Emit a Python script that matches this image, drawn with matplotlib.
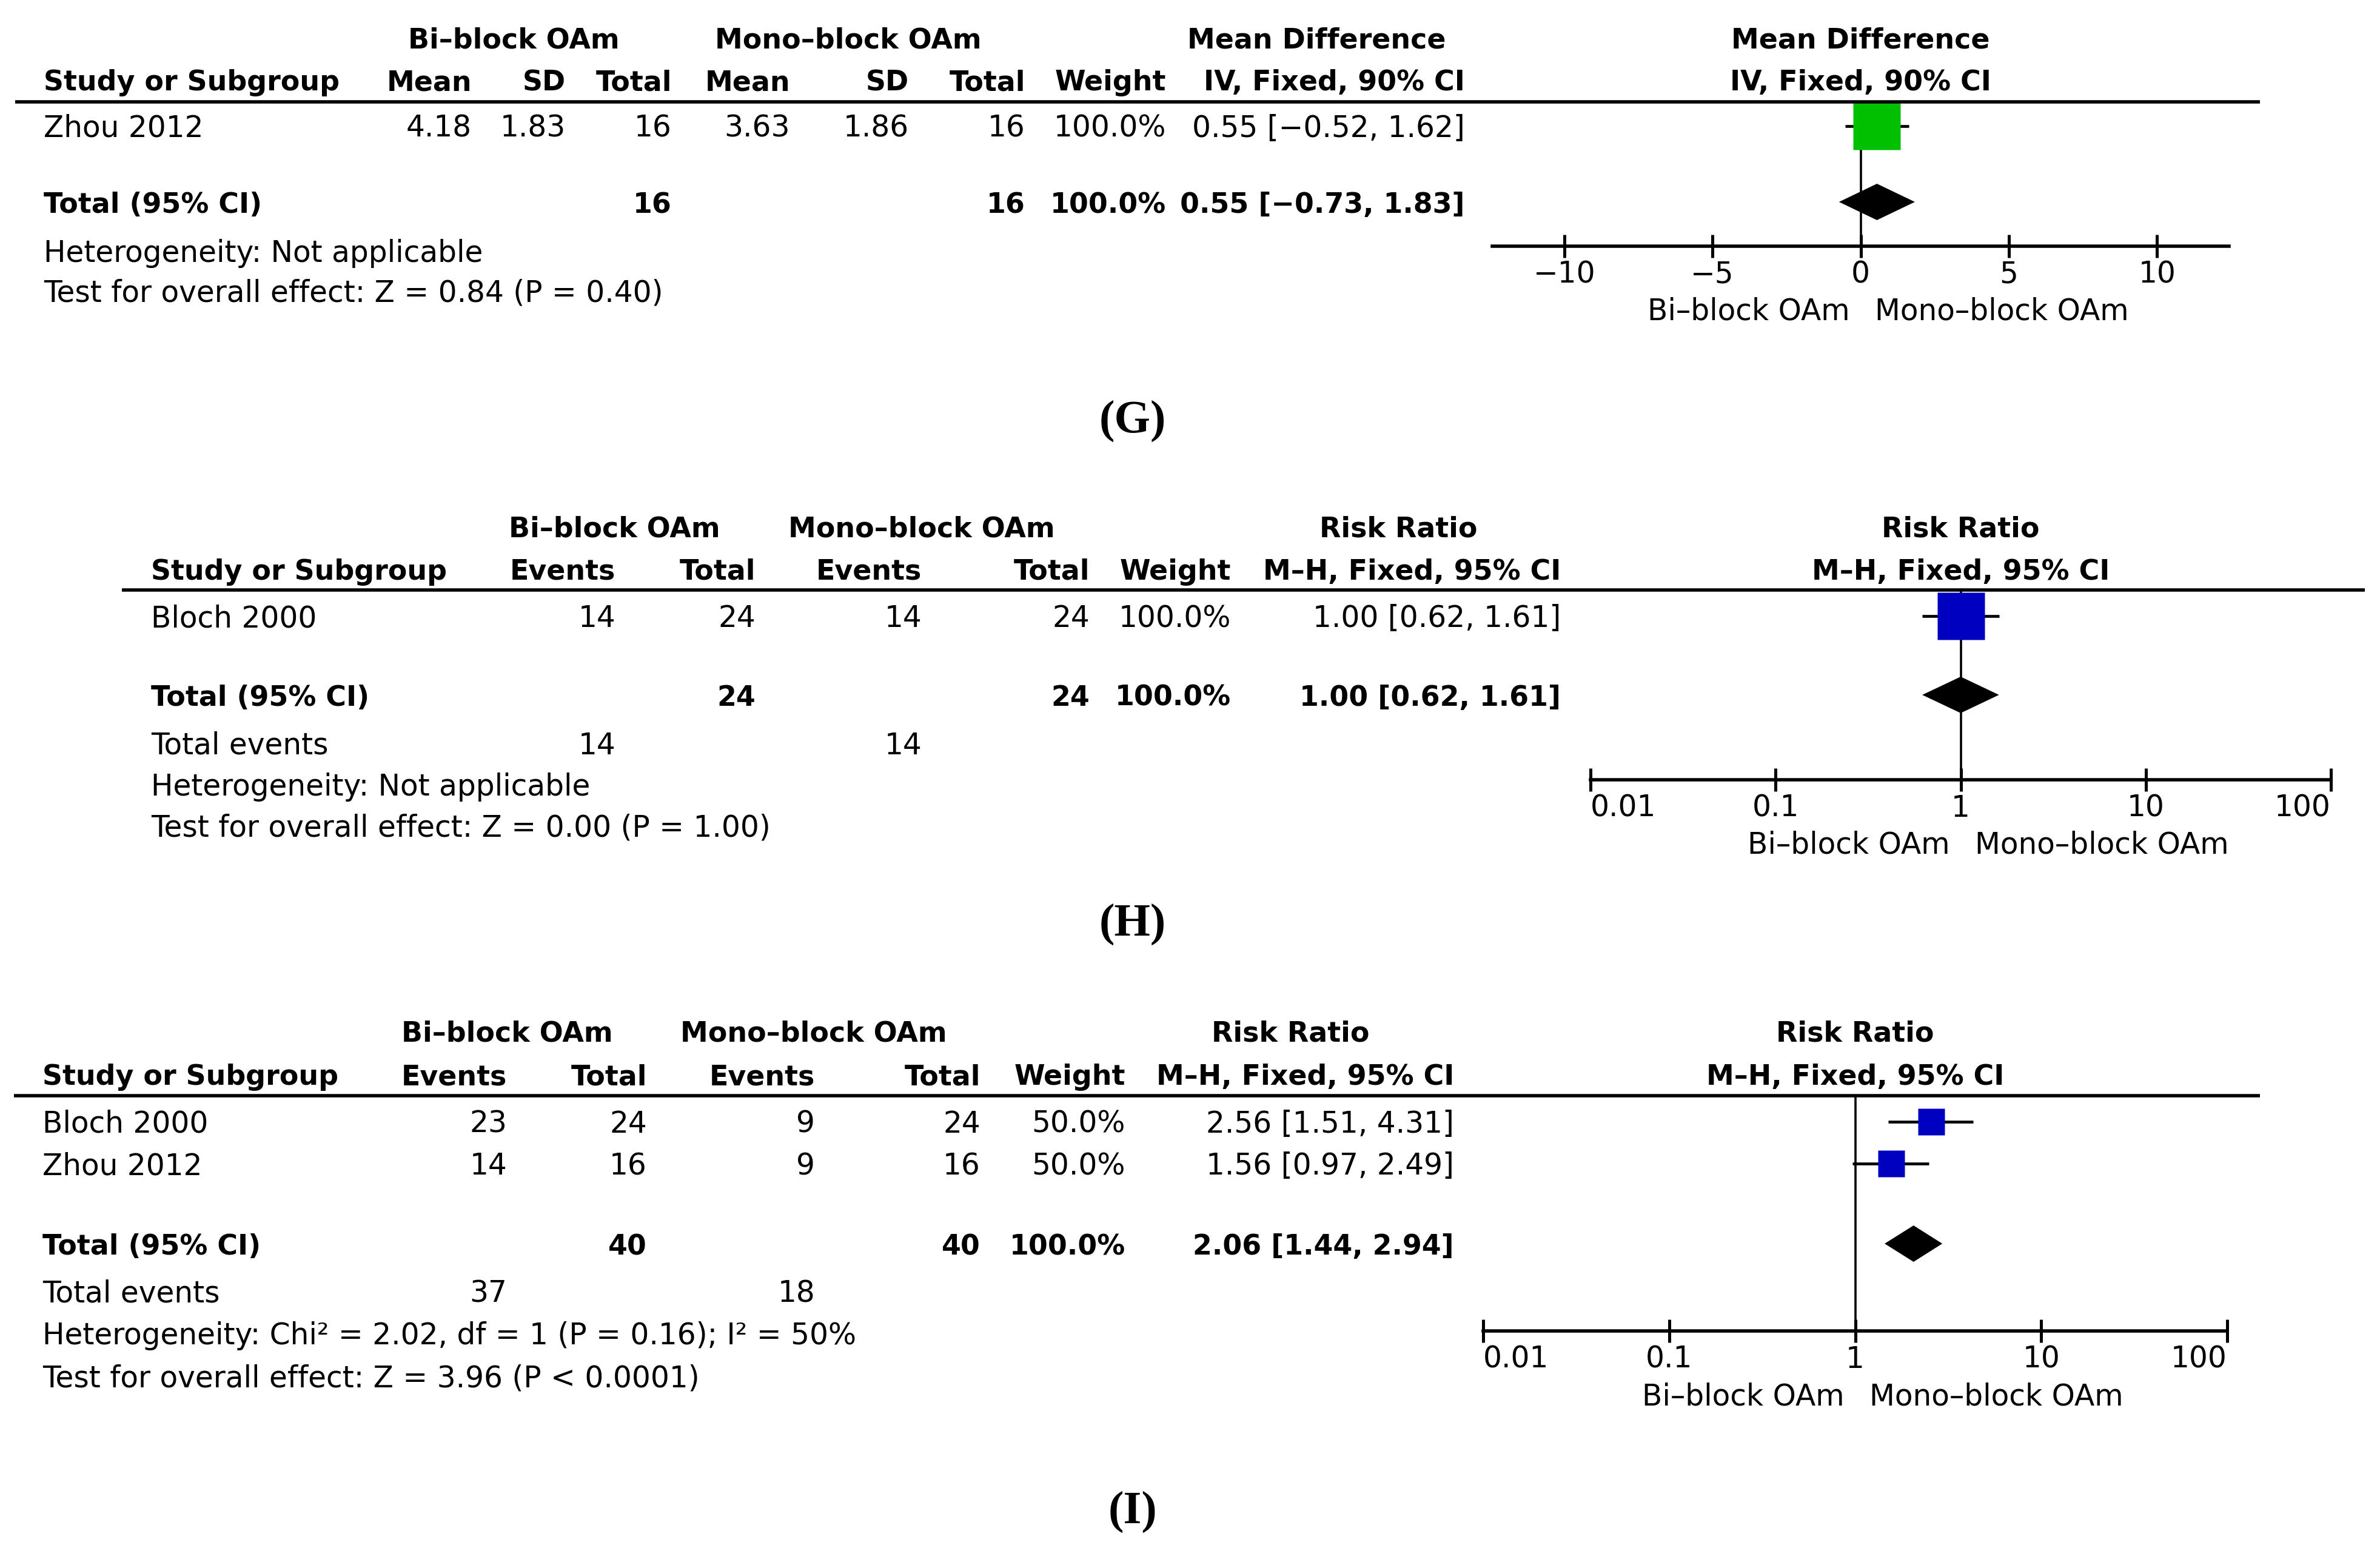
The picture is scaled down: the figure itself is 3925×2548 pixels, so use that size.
import matplotlib
matplotlib.use("Agg")
import matplotlib.pyplot as plt
from matplotlib.lines import Line2D
from matplotlib.patches import Polygon
from matplotlib.ticker import NullLocator

plt.rcParams["font.family"] = ["DejaVu Sans"]

W, H = 3925, 2548
FS = 35      # regular text
FS_B = 33    # bold text (DejaVu bold runs wide)

# ---- (G) mean difference, continuous outcome ----
G_STUDIES   = ["Zhou 2012"]
G_BI_MEAN   = [4.18]
G_BI_SD     = [1.83]
G_BI_N      = [16]
G_MONO_MEAN = [3.63]
G_MONO_SD   = [1.86]
G_MONO_N    = [16]
G_WEIGHT    = [100.0]
G_EST       = [0.55]
G_LO        = [-0.52]
G_HI        = [1.62]
G_TOTAL     = [0.55, -0.73, 1.83]
G_TICKS     = [-10, -5, 0, 5, 10]
G_HET       = "Heterogeneity: Not applicable"
G_TEST      = "Test for overall effect: Z = 0.84 (P = 0.40)"

# ---- (H) risk ratio ----
H_STUDIES = ["Bloch 2000"]
H_BI_EV   = [14]
H_BI_N    = [24]
H_MONO_EV = [14]
H_MONO_N  = [24]
H_WEIGHT  = [100.0]
H_EST     = [1.00]
H_LO      = [0.62]
H_HI      = [1.61]
H_TOTAL   = [1.00, 0.62, 1.61]
H_HET     = "Heterogeneity: Not applicable"
H_TEST    = "Test for overall effect: Z = 0.00 (P = 1.00)"

# ---- (I) risk ratio ----
I_STUDIES = ["Bloch 2000", "Zhou 2012"]
I_BI_EV   = [23, 14]
I_BI_N    = [24, 16]
I_MONO_EV = [9, 9]
I_MONO_N  = [24, 16]
I_WEIGHT  = [50.0, 50.0]
I_EST     = [2.56, 1.56]
I_LO      = [1.51, 0.97]
I_HI      = [4.31, 2.49]
I_TOTAL   = [2.06, 1.44, 2.94]
I_HET     = "Heterogeneity: Chi\u00b2 = 2.02, df = 1 (P = 0.16); I\u00b2 = 50%"
I_TEST    = "Test for overall effect: Z = 3.96 (P < 0.0001)"

RR_TICKS = [0.01, 0.1, 1, 10, 100]


def fx(x):
    return x / W


def fy(y):
    return 1 - y / H


def minus(s):
    return s.replace("-", "\u2212")


def fmt_ci(est, lo, hi):
    return minus(f"{est:.2f} [{lo:.2f}, {hi:.2f}]")


def put(fig, x, y, s, ha="right", bold=False, size=None, **kw):
    if size is None:
        size = FS_B if bold else FS
    fig.text(fx(x), fy(y), s, ha=ha, va="baseline", fontsize=size,
             fontweight="bold" if bold else "normal", **kw)


def hline(fig, x0, x1, y, lw=4.0):
    fig.add_artist(Line2D([fx(x0), fx(x1)], [fy(y), fy(y)],
                          transform=fig.transFigure, color="black", lw=lw,
                          solid_capstyle="butt"))


def draw_table(fig, lay, col_heads, rows, total_cells, events_cells, het, test):
    for text, xc in lay["groups"]:
        put(fig, xc, lay["hdr1"], text, ha="center", bold=True)
    put(fig, lay["study_x"], lay["hdr2"], "Study or Subgroup", ha="left", bold=True)
    for text, xr in zip(col_heads, lay["cols"]):
        put(fig, xr, lay["hdr2"], text, bold=True)
    hline(fig, lay["line"][0], lay["line"][1], lay["line"][2])

    for (name, cells), yb in zip(rows, lay["rows"]):
        put(fig, lay["study_x"], yb, name, ha="left")
        for c, xr in zip(cells, lay["cols"]):
            put(fig, xr, yb, c)

    put(fig, lay["study_x"], lay["total"], "Total (95% CI)", ha="left", bold=True)
    for c, xr in zip(total_cells, lay["cols"]):
        if c:
            put(fig, xr, lay["total"], c, bold=True)

    if events_cells is not None:
        put(fig, lay["study_x"], lay["events"], "Total events", ha="left")
        for c, xr in zip(events_cells, lay["cols"]):
            if c:
                put(fig, xr, lay["events"], c)

    put(fig, lay["study_x"], lay["het"], het, ha="left")
    put(fig, lay["study_x"], lay["test"], test, ha="left")


def draw_forest(fig, lay, est, lo, hi, weight, total, color, log, ticks,
                head1, head2, fmt_tick):
    x0, x1, y_axis = lay["forest"]
    y_top = lay["line"][2]
    ax = fig.add_axes([fx(x0), fy(y_axis), fx(x1) - fx(x0), (y_axis - y_top) / H])
    ax.patch.set_alpha(0)
    if log:
        ax.set_xscale("log")
        ax.set_xlim(ticks[0], ticks[-1])
        null = 1
    else:
        ax.set_xlim(-lay["xlim"], lay["xlim"])
        null = 0
    # y axis runs in pixel rows, top of the axes is the header rule
    ax.set_ylim(y_axis, y_top)

    for s in ["top", "left", "right"]:
        ax.spines[s].set_visible(False)
    ax.spines["bottom"].set_linewidth(4.0)
    ax.set_yticks([])
    ax.set_xticks(ticks)
    ax.set_xticklabels([fmt_tick(t) for t in ticks])
    ax.xaxis.set_minor_locator(NullLocator())
    ax.tick_params(axis="x", direction="inout", length=27, width=3.6,
                   labelsize=FS, pad=3)
    if log:
        # end labels sit inside the axis ends
        labels = ax.get_xticklabels()
        labels[0].set_horizontalalignment("left")
        labels[-1].set_horizontalalignment("right")

    ax.axvline(null, color="black", lw=2.6, zorder=1)

    for e, l, h, w, yb in zip(est, lo, hi, weight, lay["rows"]):
        yc = yb - 18
        ax.plot([l, h], [yc, yc], color="black", lw=3.4, zorder=2,
                solid_capstyle="butt")
        ax.plot([e], [yc], marker="s", ms=56 * (w / 100) ** 0.8, color=color,
                mec="none", zorder=3, clip_on=False)

    e, l, h = total
    yc = lay["total"] - 18
    dh = 30
    ax.add_patch(Polygon([(l, yc), (e, yc - dh), (h, yc), (e, yc + dh)],
                         closed=True, facecolor="black", edgecolor="none",
                         zorder=4))

    ax.text(null, lay["hdr1"], head1, ha="center", va="baseline", fontsize=FS_B,
            fontweight="bold", clip_on=False)
    ax.text(null, lay["hdr2"], head2, ha="center", va="baseline", fontsize=FS_B,
            fontweight="bold", clip_on=False)
    sub_y = y_axis + 122
    ax.annotate("Bi\u2013block OAm", xy=(null, sub_y), xytext=(-13, 0),
                textcoords="offset points", ha="right", va="baseline",
                fontsize=FS, annotation_clip=False)
    ax.annotate("Mono\u2013block OAm", xy=(null, sub_y), xytext=(17, 0),
                textcoords="offset points", ha="left", va="baseline",
                fontsize=FS, annotation_clip=False)
    return ax


def fmt_lin(t):
    return minus(f"{t:g}")


def fmt_log(t):
    return f"{t:g}"


def main():
    fig = plt.figure(figsize=(W / 100, H / 100), dpi=100)

    # ---------------- (G) ----------------
    g_lay = dict(
        groups=[("Bi\u2013block OAm", 847), ("Mono\u2013block OAm", 1399),
                ("Mean Difference", 2171)],
        cols=[778, 933, 1108, 1303, 1499, 1691, 1923, 2416],
        study_x=72, hdr1=80, hdr2=149, line=(25, 3727, 168),
        rows=[226], total=351, events=None, het=432, test=498,
        forest=(2461, 3676, 406), xlim=12.43,
    )
    g_heads = ["Mean", "SD", "Total", "Mean", "SD", "Total", "Weight",
               "IV, Fixed, 90% CI"]
    g_rows = []
    for i, name in enumerate(G_STUDIES):
        g_rows.append((name, [f"{G_BI_MEAN[i]:.2f}", f"{G_BI_SD[i]:.2f}", str(G_BI_N[i]),
                              f"{G_MONO_MEAN[i]:.2f}", f"{G_MONO_SD[i]:.2f}", str(G_MONO_N[i]),
                              f"{G_WEIGHT[i]:.1f}%", fmt_ci(G_EST[i], G_LO[i], G_HI[i])]))
    g_total = ["", "", str(sum(G_BI_N)), "", "", str(sum(G_MONO_N)),
               f"{sum(G_WEIGHT):.1f}%", fmt_ci(*G_TOTAL)]
    draw_table(fig, g_lay, g_heads, g_rows, g_total, None, G_HET, G_TEST)
    draw_forest(fig, g_lay, G_EST, G_LO, G_HI, G_WEIGHT, G_TOTAL, "#00c000",
                False, G_TICKS, "Mean Difference", "IV, Fixed, 90% CI", fmt_lin)

    # ---------------- (H) ----------------
    h_lay = dict(
        groups=[("Bi\u2013block OAm", 1013), ("Mono\u2013block OAm", 1520),
                ("Risk Ratio", 2306)],
        cols=[1015, 1246, 1520, 1797, 2030, 2574],
        study_x=249, hdr1=886, hdr2=956, line=(201, 3900, 973),
        rows=[1034], total=1164, events=1244, het=1312, test=1379,
        forest=(2623, 3844, 1286),
    )
    rr_heads = ["Events", "Total", "Events", "Total", "Weight",
                "M\u2013H, Fixed, 95% CI"]
    h_rows = []
    for i, name in enumerate(H_STUDIES):
        h_rows.append((name, [str(H_BI_EV[i]), str(H_BI_N[i]), str(H_MONO_EV[i]),
                              str(H_MONO_N[i]), f"{H_WEIGHT[i]:.1f}%",
                              fmt_ci(H_EST[i], H_LO[i], H_HI[i])]))
    h_total = ["", str(sum(H_BI_N)), "", str(sum(H_MONO_N)),
               f"{sum(H_WEIGHT):.1f}%", fmt_ci(*H_TOTAL)]
    h_events = [str(sum(H_BI_EV)), "", str(sum(H_MONO_EV)), "", "", ""]
    draw_table(fig, h_lay, rr_heads, h_rows, h_total, h_events, H_HET, H_TEST)
    draw_forest(fig, h_lay, H_EST, H_LO, H_HI, H_WEIGHT, H_TOTAL, "#0000c0",
                True, RR_TICKS, "Risk Ratio", "M\u2013H, Fixed, 95% CI", fmt_log)

    # ---------------- (I) ----------------
    i_lay = dict(
        groups=[("Bi\u2013block OAm", 836), ("Mono\u2013block OAm", 1342),
                ("Risk Ratio", 2128)],
        cols=[836, 1067, 1344, 1617, 1856, 2398],
        study_x=70, hdr1=1718, hdr2=1789, line=(23, 3727, 1807),
        rows=[1868, 1937], total=2069, events=2147, het=2217, test=2288,
        forest=(2446, 3673, 2195),
    )
    i_rows = []
    for i, name in enumerate(I_STUDIES):
        i_rows.append((name, [str(I_BI_EV[i]), str(I_BI_N[i]), str(I_MONO_EV[i]),
                              str(I_MONO_N[i]), f"{I_WEIGHT[i]:.1f}%",
                              fmt_ci(I_EST[i], I_LO[i], I_HI[i])]))
    i_total = ["", str(sum(I_BI_N)), "", str(sum(I_MONO_N)),
               f"{sum(I_WEIGHT):.1f}%", fmt_ci(*I_TOTAL)]
    i_events = [str(sum(I_BI_EV)), "", str(sum(I_MONO_EV)), "", "", ""]
    draw_table(fig, i_lay, rr_heads, i_rows, i_total, i_events, I_HET, I_TEST)
    draw_forest(fig, i_lay, I_EST, I_LO, I_HI, I_WEIGHT, I_TOTAL, "#0000c0",
                True, RR_TICKS, "Risk Ratio", "M\u2013H, Fixed, 95% CI", fmt_log)

    # panel letters
    for letter, yb in [("(G)", 713), ("(H)", 1543), ("(I)", 2512)]:
        put(fig, 1868, yb, letter, ha="center", bold=True, size=55,
            family="Liberation Serif")

    fig.savefig("out.png", dpi=100, facecolor="white")
    plt.close(fig)


if __name__ == "__main__":
    main()
